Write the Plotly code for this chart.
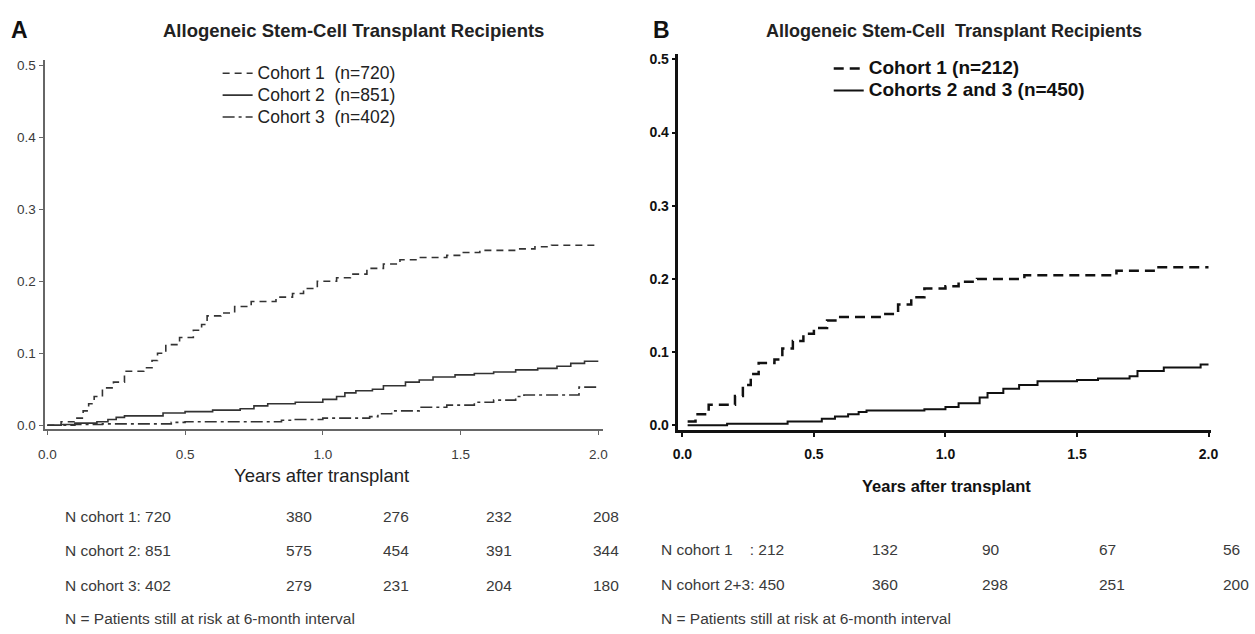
import plotly.graph_objects as go

# ---------------- data ----------------
# Panel A
a_c1_t = [0, 0.05, 0.1, 0.13, 0.15, 0.17, 0.2, 0.24, 0.28, 0.35, 0.38, 0.4, 0.43, 0.48, 0.53, 0.56, 0.58, 0.63, 0.68, 0.74, 0.83, 0.89, 0.93, 0.98, 1.05, 1.1, 1.16, 1.22, 1.28, 1.35, 1.45, 1.51, 1.57, 1.7, 1.77, 1.83, 2.0]
a_c1_y = [0, 0.005, 0.01, 0.02, 0.03, 0.04, 0.052, 0.06, 0.075, 0.08, 0.09, 0.10, 0.112, 0.122, 0.132, 0.14, 0.152, 0.156, 0.165, 0.172, 0.178, 0.183, 0.19, 0.2, 0.205, 0.21, 0.218, 0.224, 0.23, 0.233, 0.236, 0.24, 0.243, 0.245, 0.248, 0.25, 0.251]

a_c2_t = [0, 0.05, 0.1, 0.18, 0.22, 0.25, 0.28, 0.42, 0.5, 0.6, 0.7, 0.75, 0.8, 0.9, 1.0, 1.05, 1.08, 1.12, 1.18, 1.22, 1.3, 1.35, 1.4, 1.48, 1.55, 1.62, 1.7, 1.78, 1.85, 1.9, 1.95, 2.0]
a_c2_y = [0, 0.001, 0.003, 0.005, 0.008, 0.011, 0.013, 0.017, 0.019, 0.021, 0.023, 0.027, 0.03, 0.032, 0.036, 0.04, 0.045, 0.048, 0.05, 0.055, 0.06, 0.063, 0.067, 0.07, 0.072, 0.074, 0.077, 0.079, 0.082, 0.086, 0.089, 0.089]

a_c3_t = [0, 0.1, 0.2, 0.45, 0.5, 0.85, 0.9, 1.0, 1.17, 1.2, 1.25, 1.35, 1.45, 1.55, 1.62, 1.7, 1.73, 1.93, 2.0]
a_c3_y = [0, 0.001, 0.002, 0.004, 0.005, 0.007, 0.008, 0.01, 0.012, 0.016, 0.02, 0.025, 0.028, 0.032, 0.035, 0.04, 0.042, 0.053, 0.053]

# Panel B
b_c1_t = [0.02, 0.05, 0.1, 0.18, 0.2, 0.23, 0.26, 0.29, 0.35, 0.38, 0.42, 0.46, 0.5, 0.55, 0.6, 0.75, 0.82, 0.87, 0.92, 1.0, 1.05, 1.12, 1.3, 1.65, 1.8, 2.0]
b_c1_y = [0.005, 0.015, 0.028, 0.028, 0.04, 0.055, 0.07, 0.085, 0.09, 0.105, 0.115, 0.125, 0.133, 0.143, 0.148, 0.152, 0.165, 0.175, 0.187, 0.19, 0.196, 0.2, 0.205, 0.211, 0.216, 0.216]

b_c23_t = [0.02, 0.17, 0.4, 0.53, 0.58, 0.63, 0.67, 0.7, 0.92, 1.0, 1.05, 1.13, 1.16, 1.22, 1.28, 1.35, 1.5, 1.58, 1.7, 1.73, 1.83, 1.97, 2.0]
b_c23_y = [0, 0.002, 0.005, 0.009, 0.012, 0.015, 0.018, 0.02, 0.022, 0.025, 0.03, 0.038, 0.044, 0.05, 0.055, 0.06, 0.062, 0.064, 0.067, 0.074, 0.079, 0.083, 0.083]

# Labels
a_names = ["Cohort 1  (n=720)", "Cohort 2  (n=851)", "Cohort 3  (n=402)"]
b_names = ["Cohort 1 (n=212)", "Cohorts 2 and 3 (n=450)"]
tick_vals_x = [0.0, 0.5, 1.0, 1.5, 2.0]
tick_text_x = ["0.0", "0.5", "1.0", "1.5", "2.0"]
tick_vals_y = [0.0, 0.1, 0.2, 0.3, 0.4, 0.5]
tick_text_y = ["0.0", "0.1", "0.2", "0.3", "0.4", "0.5"]

a_row_labels = ["N cohort 1: 720", "N cohort 2: 851", "N cohort 3: 402"]
a_row_values = [["380", "276", "232", "208"],
                ["575", "454", "391", "344"],
                ["279", "231", "204", "180"]]
b_row_labels = ["N cohort 1    : 212", "N cohort 2+3: 450"]
b_row_values = [["132", "90", "67", "56"],
                ["360", "298", "251", "200"]]
footnote = "N = Patients still at risk at 6-month interval"
title_a = "Allogeneic Stem-Cell Transplant Recipients"
title_b = "Allogeneic Stem-Cell  Transplant Recipients"
xlabel = "Years after transplant"

# ---------------- figure ----------------
W, H = 1255, 634
def px(x):
    return x / W
def py(y):
    return 1 - y / H

FA = "Liberation Sans, Arial, sans-serif"
gA = "#3a3a3a"

def big(s, size):
    return '<span style="font-size:%spx">%s</span>' % (size, s)

fig = go.Figure()
fig.add_trace(go.Scatter(x=a_c1_t, y=a_c1_y, mode="lines", line_shape="hv", name=big(a_names[0], 17.5),
                         line=dict(color="#333333", width=1.6, dash="7px,5px"),
                         xaxis="x", yaxis="y", legend="legend"))
fig.add_trace(go.Scatter(x=a_c2_t, y=a_c2_y, mode="lines", line_shape="hv", name=big(a_names[1], 17.5),
                         line=dict(color="#333333", width=1.6),
                         xaxis="x", yaxis="y", legend="legend"))
fig.add_trace(go.Scatter(x=a_c3_t, y=a_c3_y, mode="lines", line_shape="hv", name=big(a_names[2], 17.5),
                         line=dict(color="#333333", width=1.6, dash="12px,4px,3px,4px"),
                         xaxis="x", yaxis="y", legend="legend"))
fig.add_trace(go.Scatter(x=b_c1_t, y=b_c1_y, mode="lines", line_shape="hv", name=big(b_names[0], 19),
                         line=dict(color="#111111", width=2.5, dash="10px,6px"),
                         xaxis="x2", yaxis="y2", legend="legend2"))
fig.add_trace(go.Scatter(x=b_c23_t, y=b_c23_y, mode="lines", line_shape="hv", name=big(b_names[1], 19),
                         line=dict(color="#111111", width=2.0),
                         xaxis="x2", yaxis="y2", legend="legend2"))

common_x = dict(tickvals=tick_vals_x, ticktext=tick_text_x, showgrid=False, zeroline=False,
                showline=True, mirror=False, ticks="outside", ticklen=4)
common_y = dict(tickvals=tick_vals_y, ticktext=tick_text_y, showgrid=False, zeroline=False,
                showline=True, mirror=False, ticks="outside", ticklen=4)

fig.update_layout(
    width=W, height=H,
    margin=dict(l=0, r=0, t=0, b=0),
    paper_bgcolor="white", plot_bgcolor="white",
    xaxis=dict(domain=[px(38), px(603)], range=[-0.01, 2.018], anchor="y",
               linecolor="#666666", linewidth=2, tickcolor="#666666", tickwidth=1,
               ticklabelstandoff=8,
               tickfont=dict(family=FA, size=13.5, color=gA), **common_x),
    yaxis=dict(domain=[py(431), py(58)], range=[-0.0055, 0.5069], anchor="x",
               linecolor="#666666", linewidth=2, tickcolor="#666666", tickwidth=1,
               tickfont=dict(family=FA, size=13.5, color=gA), **common_y),
    xaxis2=dict(domain=[px(679), px(1218)], range=[-0.015, 2.011], anchor="y2",
                linecolor="#111111", linewidth=2.5, tickcolor="#111111", tickwidth=1.5,
                ticklabelstandoff=5,
                tickfont=dict(family=FA, size=14, color="#111111", weight="bold"), **common_x),
    yaxis2=dict(domain=[py(432), py(52)], range=[-0.0068, 0.5068], anchor="x2",
                linecolor="#111111", linewidth=2.5, tickcolor="#111111", tickwidth=1.5,
                tickfont=dict(family=FA, size=14, color="#111111", weight="bold"), **common_y),
    legend=dict(x=px(213), y=py(55), xanchor="left", yanchor="top", bgcolor="rgba(0,0,0,0)",
                font=dict(family=FA, size=14.5, color="#222222"), tracegroupgap=0, itemwidth=30),
    legend2=dict(x=px(831), y=py(50), xanchor="left", yanchor="top", bgcolor="rgba(0,0,0,0)",
                 font=dict(family=FA, size=14.6, color="#111111", weight="bold"), tracegroupgap=0, itemwidth=30),
    showlegend=True,
)

ann = []
# panel letters and titles
ann.append(dict(text="<b>A</b>", x=px(2), y=py(27), xanchor="left", yanchor="middle",
                font=dict(family=FA, size=23, color="#111111")))
ann.append(dict(text="<b>B</b>", x=px(651), y=py(27), xanchor="left", yanchor="middle",
                font=dict(family=FA, size=23, color="#111111")))
ann.append(dict(text="<b>" + title_a + "</b>", x=px(350), y=py(28), xanchor="center", yanchor="middle",
                font=dict(family=FA, size=18.5, color="#222222")))
ann.append(dict(text="<b>" + title_b + "</b>", x=px(958), y=py(28), xanchor="center", yanchor="middle",
                font=dict(family=FA, size=18, color="#222222")))
# x-axis titles
ann.append(dict(text=xlabel, x=px(318), y=py(478), xanchor="center", yanchor="middle",
                font=dict(family=FA, size=18.5, color="#222222")))
ann.append(dict(text="<b>" + xlabel + "</b>", x=px(950), y=py(488), xanchor="center", yanchor="middle",
                font=dict(family=FA, size=16.5, color="#111111")))

# tables
a_cols = [280, 378, 482, 591]
a_rows = [519, 554, 589]
for i, lab in enumerate(a_row_labels):
    ann.append(dict(text=lab, x=px(57), y=py(a_rows[i]), xanchor="left", yanchor="middle",
                    font=dict(family=FA, size=15.5, color=gA)))
    for j, v in enumerate(a_row_values[i]):
        ann.append(dict(text=v, x=px(a_cols[j]), y=py(a_rows[i]), xanchor="left", yanchor="middle",
                        font=dict(family=FA, size=15.5, color=gA)))
ann.append(dict(text=footnote, x=px(57), y=py(622), xanchor="left", yanchor="middle",
                font=dict(family=FA, size=15.5, color=gA)))

b_cols = [873, 984, 1102, 1228]
b_rows = [553, 588]
for i, lab in enumerate(b_row_labels):
    ann.append(dict(text=lab, x=px(659), y=py(b_rows[i]), xanchor="left", yanchor="middle",
                    font=dict(family=FA, size=15.5, color=gA)))
    for j, v in enumerate(b_row_values[i]):
        ann.append(dict(text=v, x=px(b_cols[j]), y=py(b_rows[i]), xanchor="left", yanchor="middle",
                        font=dict(family=FA, size=15.5, color=gA)))
ann.append(dict(text=footnote, x=px(659), y=py(622), xanchor="left", yanchor="middle",
                font=dict(family=FA, size=15.5, color=gA)))

for a in ann:
    a.update(xref="paper", yref="paper", showarrow=False)
fig.update_layout(annotations=ann)

fig.write_html("out.html", config={"displayModeBar": False},
               post_script="document.body.style.margin='0px';")
